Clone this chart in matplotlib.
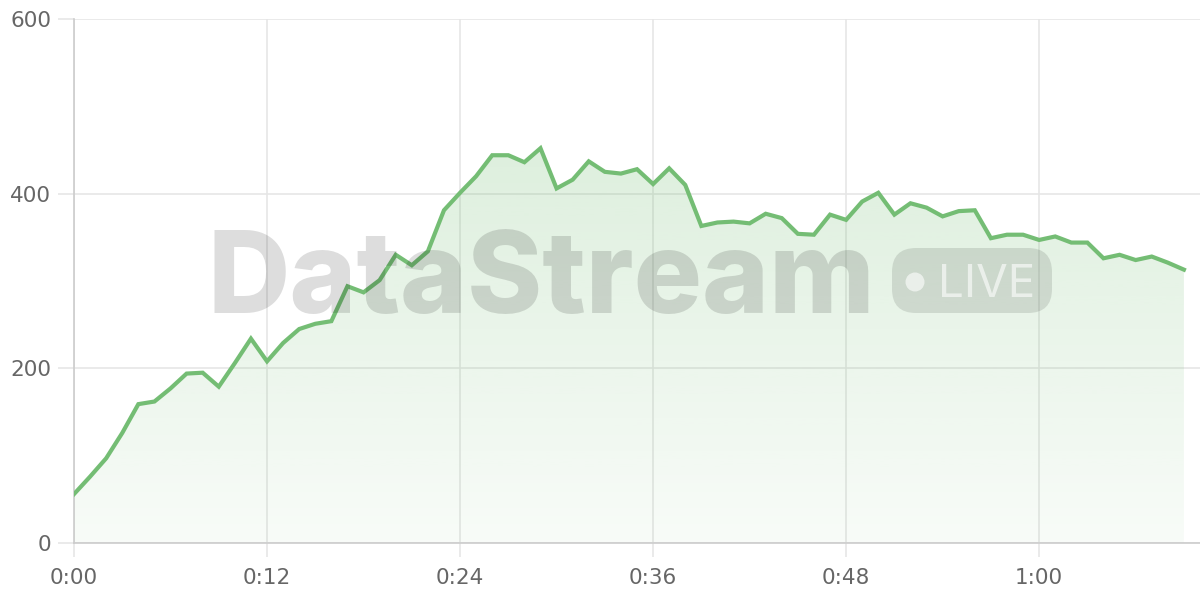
import matplotlib
matplotlib.use("Agg")
import matplotlib.pyplot as plt
import numpy as np
from matplotlib.patches import FancyBboxPatch, Ellipse, Polygon

# seconds since start, one sample per second
seconds = list(range(70))
values = [56, 76, 97, 126, 159, 162, 177, 194, 195, 179,
          206, 234, 208, 229, 245, 251, 254, 294, 287, 301,
          330, 318, 334, 381, 401, 420, 444, 444, 436, 452,
          406, 416, 437, 425, 423, 428, 411, 429, 410, 363,
          367, 368, 366, 377, 372, 354, 353, 376, 370, 391,
          401, 376, 389, 384, 374, 380, 381, 349, 353, 353,
          347, 351, 344, 344, 326, 330, 324, 328, 321, 313]
x_ticks = [0, 12, 24, 36, 48, 60]
x_labels = ["0:00", "0:12", "0:24", "0:36", "0:48", "1:00"]
y_ticks = [0, 200, 400, 600]

LINE = "#74bd74"
GRID = "#e6e6e6"
TXT = "#666666"

plt.rcParams['font.family'] = ['DejaVu Sans']

fig = plt.figure(figsize=(12, 6), dpi=100)
ax = fig.add_axes([74/1200, 1-543/600, 1-74/1200, (543-19)/600])
ax.set_xlim(0, 70)
ax.set_ylim(0, 600)

# gradient fill under the line
grad = np.linspace(0.05, 0.24, 256).reshape(-1, 1)
rgba = np.zeros((256, 1, 4))
rgba[..., 0] = 0x74/255
rgba[..., 1] = 0xbd/255
rgba[..., 2] = 0x74/255
rgba[..., 3] = grad
top = max(values)
im = ax.imshow(rgba, aspect='auto', origin='lower',
               extent=[0, seconds[-1], 0, top], zorder=1)
poly = Polygon(list(zip(seconds, values)) + [(seconds[-1], 0), (0, 0)],
               closed=True, transform=ax.transData, facecolor='none', edgecolor='none')
ax.add_patch(poly)
im.set_clip_path(poly)

ax.plot(seconds, values, color=LINE, lw=3, zorder=4, solid_joinstyle='miter')

ax.set_xticks(x_ticks)
ax.set_xticklabels(x_labels)
ax.set_yticks(y_ticks)
ax.grid(True, color=GRID, lw=1.2, zorder=0)
ax.set_axisbelow(True)
for s in ['top', 'right']:
    ax.spines[s].set_visible(False)
ax.spines['left'].set_color('#cccccc')
ax.spines['bottom'].set_color('#cccccc')
ax.spines['left'].set_linewidth(1.2)
ax.spines['bottom'].set_linewidth(1.2)
ax.tick_params(axis='y', length=11.5, width=1.2, color=GRID, labelcolor=TXT, labelsize=15.5, pad=5)
ax.tick_params(axis='x', length=10, width=1.2, color=GRID, labelcolor=TXT, labelsize=15.5, pad=8)

# watermark
fig.text(208/1200, 1-313/600, "DataStream", fontsize=82, fontweight='heavy',
         family=['Inter', 'DejaVu Sans'], color=(0, 0, 0, 0.135), ha='left', va='baseline', zorder=3)
badge = FancyBboxPatch((892/1200, 1-313/600), 160/1200, 65/600,
                       boxstyle="round,pad=0,rounding_size=0.02", transform=fig.transFigure,
                       facecolor=(0, 0, 0, 0.11), edgecolor='none', zorder=3,
                       mutation_aspect=2)
fig.patches.append(badge)
fig.patches.append(Ellipse((915/1200, 1-282/600), 19/1200, 19/600, transform=fig.transFigure,
                           facecolor=(1, 1, 1, 0.6), edgecolor='none', zorder=3))
fig.text(938/1200, 1-297/600, "LIVE", fontsize=33, family=['Inter', 'DejaVu Sans'],
         color=(1, 1, 1, 0.6), ha='left', va='baseline', zorder=3)

plt.savefig("out.png", dpi=100)
